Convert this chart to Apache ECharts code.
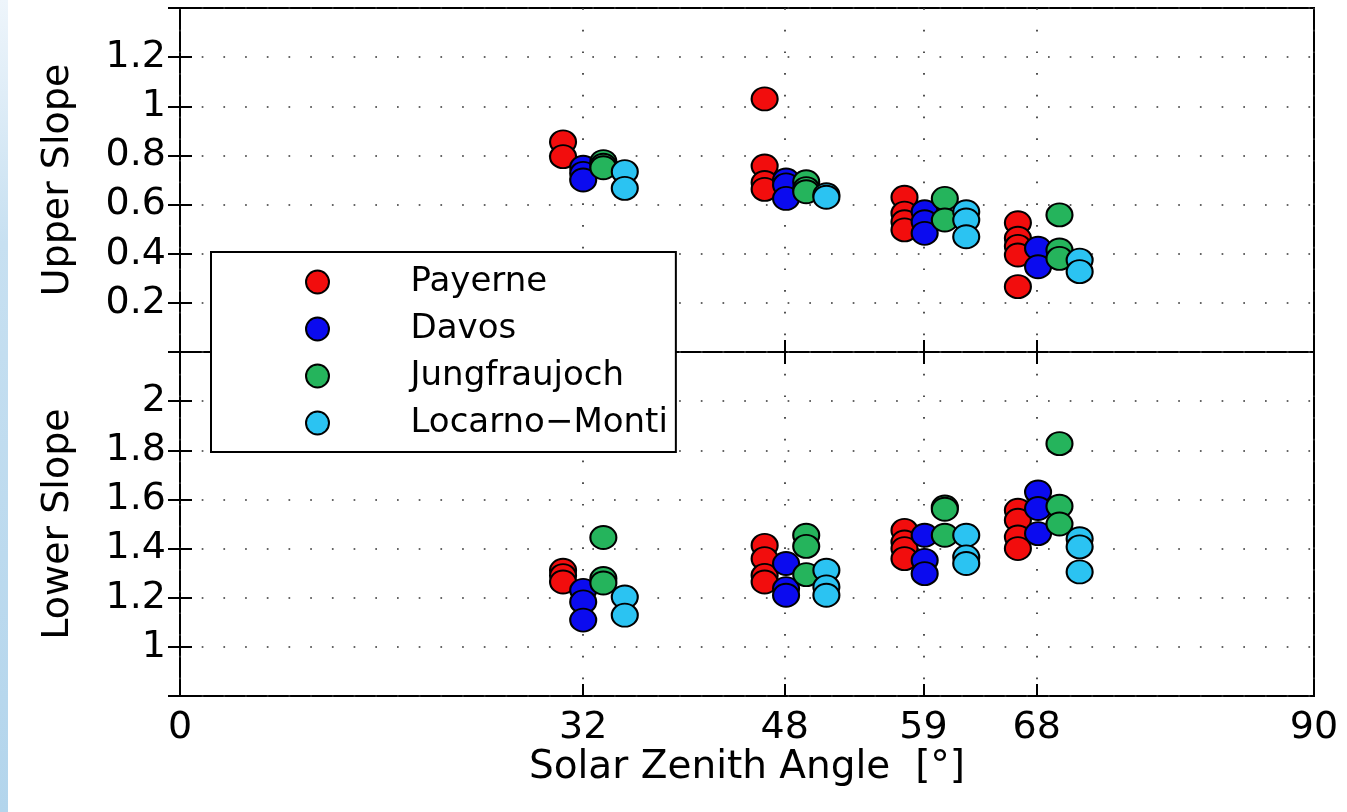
<!DOCTYPE html>
<html><head><meta charset="utf-8">
<script src="https://cdn.jsdelivr.net/npm/echarts@6/dist/echarts.min.js"></script>
<style>html,body{margin:0;padding:0;background:#fff}#c{width:1347px;height:812px}</style>
</head><body><div id="c"></div>
<script>
// ---- data ----
const stations = ['Payerne', 'Davos', 'Jungfraujoch', 'Locarno\u2212Monti'];
const stationColors = ['#f20d0d', '#0b0bef', '#25b45c', '#2bc3f2'];
const xTickValues = [0, 32, 48, 59, 68, 90];
const upperTickLabels = [0.2, 0.4, 0.6, 0.8, 1, 1.2];
const lowerTickLabels = [1, 1.2, 1.4, 1.6, 1.8, 2];

// plotted x position of each station's group at the four solar zenith angles
const payerneX = [30.4, 46.4, 57.5, 66.5];
const davosX = [32.0, 48.1, 59.1, 68.1];
const jungX = [33.6, 49.7, 60.7, 69.8];
const locarnoX = [35.3, 51.3, 62.4, 71.4];

const payerneUpper = [[0.855, 0.795], [1.03, 0.757, 0.69, 0.662], [0.63, 0.565, 0.53, 0.497], [0.526, 0.463, 0.43, 0.395, 0.266]];
const davosUpper = [[0.752, 0.727, 0.70], [0.70, 0.68, 0.625], [0.571, 0.53, 0.483], [0.422, 0.347]];
const jungUpper = [[0.775, 0.76, 0.75], [0.693, 0.665, 0.652], [0.625, 0.537], [0.558, 0.415, 0.381]];
const locarnoUpper = [[0.734, 0.666], [0.64, 0.63], [0.571, 0.537, 0.469], [0.374, 0.327]];

const payerneLower = [[1.312, 1.29, 1.264], [1.413, 1.359, 1.291, 1.264], [1.474, 1.427, 1.40, 1.359], [1.556, 1.515, 1.447, 1.40]];
const davosLower = [[1.23, 1.183, 1.109], [1.339, 1.237, 1.21], [1.454, 1.352, 1.298], [1.63, 1.563, 1.461]];
const jungLower = [[1.445, 1.278, 1.26], [1.454, 1.409, 1.294], [1.569, 1.56, 1.454], [1.827, 1.572, 1.50]];
const locarnoLower = [[1.203, 1.129], [1.312, 1.244, 1.21], [1.454, 1.366, 1.339], [1.44, 1.407, 1.305]];

// ---- build ----
const FONT = 'DejaVu Sans';
const ELLIPSE = 'path://M0,10a10,10 0 1,0 20,0a10,10 0 1,0 -20,0z';
const xs = [payerneX, davosX, jungX, locarnoX];
const ups = [payerneUpper, davosUpper, jungUpper, locarnoUpper];
const lows = [payerneLower, davosLower, jungLower, locarnoLower];

function pairs(xArr, groups) {
  const out = [];
  groups.forEach((g, i) => g.forEach(v => out.push([xArr[i], v])));
  return out;
}

const series = [];
stations.forEach((name, k) => {
  const common = {
    name, type: 'scatter', symbol: ELLIPSE, symbolSize: [26, 23],
    itemStyle: { color: stationColors[k], borderColor: '#000', borderWidth: 2, opacity: 1 },
    emphasis: { disabled: true }, z: 3 + k
  };
  series.push(Object.assign({}, common, { xAxisIndex: 0, yAxisIndex: 0, data: pairs(xs[k], ups[k]) }));
  series.push(Object.assign({}, common, { xAxisIndex: 1, yAxisIndex: 1, data: pairs(xs[k], lows[k]) }));
});

const dotted = { show: true, lineStyle: { color: '#333', width: 1.7, type: [1.7, 20] } };
const tickStyle = { show: true, inside: true, length: 12, lineStyle: { color: '#000', width: 2 } };
const labelFont = { fontFamily: FONT, fontSize: 38, color: '#000' };

function xAxisDef(grid, pos, main, withLabels) {
  return {
    type: 'value', gridIndex: grid, position: pos, min: 0, max: 90,
    axisLine: { show: false },
    axisTick: Object.assign({}, tickStyle, { customValues: xTickValues }),
    axisLabel: withLabels ? Object.assign({ show: true, margin: 13, customValues: xTickValues }, labelFont) : { show: false },
    splitLine: main ? dotted : { show: false },
    name: withLabels ? 'Solar Zenith Angle  [\u00b0]' : '',
    nameLocation: 'middle', nameGap: 46,
    nameTextStyle: { fontFamily: FONT, fontSize: 39, color: '#000' }
  };
}
function yAxisDef(grid, pos, min, max, labels, title) {
  const left = pos === 'left';
  return {
    type: 'value', gridIndex: grid, position: pos, min, max, interval: 0.2,
    axisLine: { show: false },
    axisTick: tickStyle,
    axisLabel: left ? Object.assign({ show: true, margin: 14, customValues: labels, formatter: v => String(+(+v).toFixed(1)) }, labelFont) : { show: false },
    splitLine: left ? dotted : { show: false },
    name: left ? title : '',
    nameLocation: 'middle', nameGap: 103, nameRotate: 90,
    nameTextStyle: { fontFamily: FONT, fontSize: 38, color: '#000' }
  };
}

const option = {
  animation: false,
  backgroundColor: '#fff',
  graphic: [{
    type: 'rect', left: 0, top: 0, z: -1,
    shape: { width: 8, height: 812 },
    style: { fill: new echarts.graphic.LinearGradient(0, 0, 0, 1, [
      { offset: 0, color: '#eef5fb' }, { offset: 0.3, color: '#c7e0f1' }, { offset: 1, color: '#b3d5ec' }]) }
  }],
  grid: [
    { left: 180, right: 33, top: 8, height: 344, show: true, borderColor: '#000', borderWidth: 2, backgroundColor: 'transparent' },
    { left: 180, right: 33, top: 352, height: 344, show: true, borderColor: '#000', borderWidth: 2, backgroundColor: 'transparent' }
  ],
  xAxis: [
    xAxisDef(0, 'bottom', true, false),
    xAxisDef(1, 'bottom', true, true),
    xAxisDef(0, 'top', false, false),
    xAxisDef(1, 'top', false, false)
  ],
  yAxis: [
    yAxisDef(0, 'left', 0, 1.4, upperTickLabels, 'Upper Slope'),
    yAxisDef(1, 'left', 0.8, 2.2, lowerTickLabels, 'Lower Slope'),
    yAxisDef(0, 'right', 0, 1.4, upperTickLabels, ''),
    yAxisDef(1, 'right', 0.8, 2.2, lowerTickLabels, '')
  ],
  legend: {
    data: stations, orient: 'vertical', left: 211, top: 252,
    padding: [13, 8, 12, 94], itemGap: 13, itemWidth: 26, itemHeight: 23,
    icon: ELLIPSE,
    backgroundColor: '#fff', borderColor: '#000', borderWidth: 2, borderRadius: 0,
    selectedMode: false,
    formatter: n => '{s| }' + n,
    textStyle: { fontFamily: FONT, fontSize: 34, color: '#000',
      rich: { s: { width: 75, fontSize: 34 } } }
  },
  series
};

const chart = echarts.init(document.getElementById('c'), null, { renderer: 'canvas' });
chart.setOption(option);
</script>
</body></html>
